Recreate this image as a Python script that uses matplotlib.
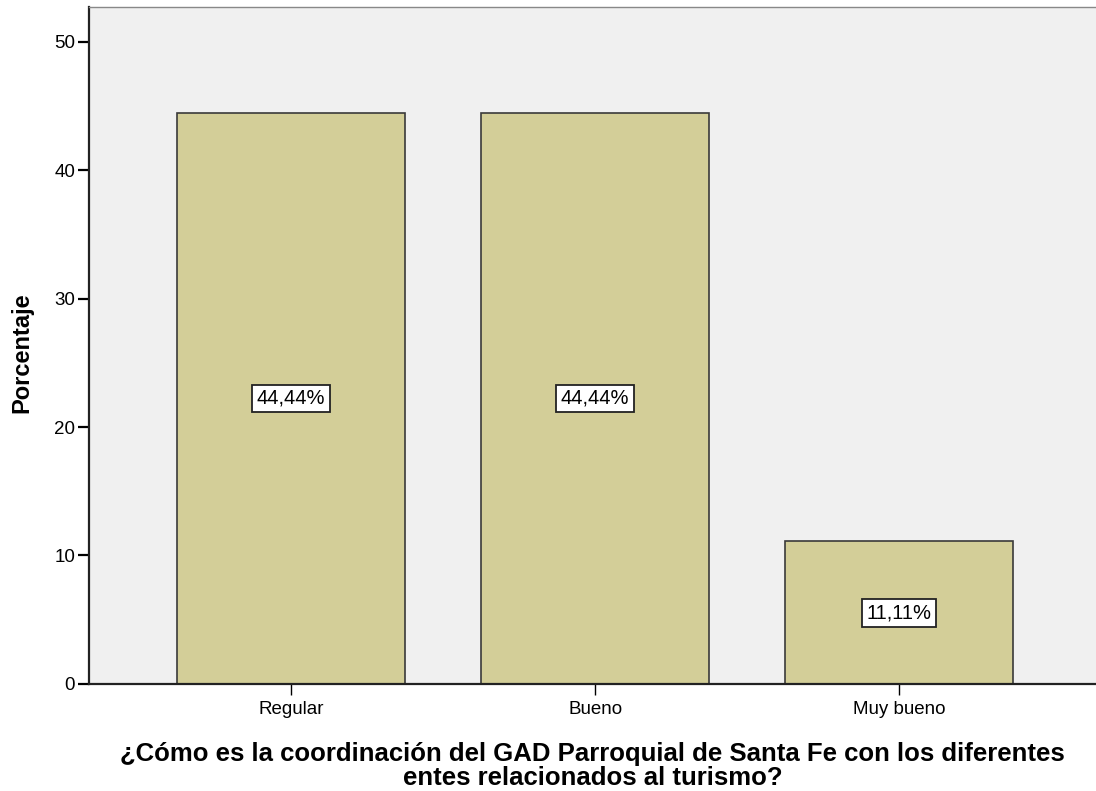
import matplotlib.pyplot as plt

categorias = ["Regular", "Bueno", "Muy bueno"]
porcentajes = [44.44, 44.44, 11.11]
etiquetas = ["44,44%", "44,44%", "11,11%"]
yticks = [0, 10, 20, 30, 40, 50]

plt.rcParams['font.family'] = ['Liberation Sans', 'DejaVu Sans']

fig = plt.figure(figsize=(10.96, 7.91), dpi=100)
ax = fig.add_axes([0.0812, 0.1353, 0.9188, 0.856])
ax.set_facecolor("#F0F0F0")

x = range(len(categorias))
ax.bar(x, porcentajes, width=0.748, color="#D3CE98", edgecolor="#3a3a3a", linewidth=1.2, zorder=2)

for i, (v, t) in enumerate(zip(porcentajes, etiquetas)):
    ax.text(i, v / 2, t, ha="center", va="center", fontsize=14.5, zorder=3,
            bbox=dict(boxstyle="square,pad=0.22", facecolor="white", edgecolor="#222222", linewidth=1.3))

ax.set_xlim(-0.665, 2.648)
ax.set_ylim(0, 52.7)
ax.set_yticks(yticks)
ax.set_xticks(list(x))
ax.set_xticklabels(categorias)
ax.tick_params(axis="y", length=8, width=1.6, labelsize=13.5, pad=2)
ax.tick_params(axis="x", length=8, width=1.0, labelsize=13.5, pad=4)

for s in ["left", "bottom"]:
    ax.spines[s].set_linewidth(1.6)
    ax.spines[s].set_color("#222222")
ax.spines["top"].set_color("#888888")
ax.spines["top"].set_linewidth(1.0)
ax.spines["right"].set_visible(False)

ax.set_ylabel("Porcentaje", fontsize=17, fontweight="bold")
ax.yaxis.set_label_coords(-0.0556, 0.489)
ax.set_xlabel("¿Cómo es la coordinación del GAD Parroquial de Santa Fe con los diferentes\nentes relacionados al turismo?",
              fontsize=18.5, fontweight="bold", linespacing=0.98)
ax.xaxis.set_label_coords(0.5, -0.0857)

fig.savefig("out.png", dpi=100)
